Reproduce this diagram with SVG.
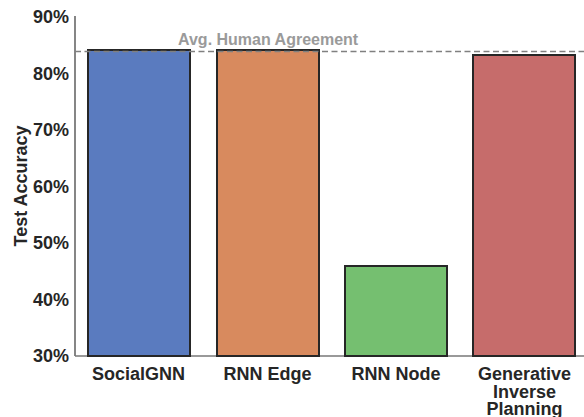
<svg xmlns="http://www.w3.org/2000/svg" width="584" height="417" viewBox="0 0 584 417">
<style>
text{font-family:"Liberation Sans",Arial,sans-serif;font-weight:bold;fill:#262626}
.tick{font-size:18px;text-anchor:end}
.xl{font-size:18px;text-anchor:middle}
.bar{stroke:#262626;stroke-width:2}
</style>
<rect width="584" height="417" fill="#fff"/>
<g id="axes">
<line x1="75" y1="16" x2="75" y2="356" stroke="#444" stroke-width="1.3"/>
<line x1="75" y1="356" x2="584" y2="356" stroke="#777" stroke-width="1.5"/>
<text class="tick" x="69" y="23">90%</text>
<text class="tick" x="69" y="79.5">80%</text>
<text class="tick" x="69" y="136">70%</text>
<text class="tick" x="69" y="192.5">60%</text>
<text class="tick" x="69" y="249">50%</text>
<text class="tick" x="69" y="305.5">40%</text>
<text class="tick" x="69" y="362">30%</text>
<text transform="translate(27,186) rotate(-90)" font-size="18" text-anchor="middle">Test Accuracy</text>
</g>
<g id="bar-socialgnn">
<rect class="bar" x="88" y="50" width="102" height="306" fill="#5a7bbf"/>
<text class="xl" x="138.5" y="380">SocialGNN</text>
</g>
<g id="bar-rnn-edge">
<rect class="bar" x="217" y="50" width="102" height="306" fill="#d88a5e"/>
<text class="xl" x="267.5" y="380">RNN Edge</text>
</g>
<g id="bar-rnn-node">
<rect class="bar" x="345" y="266" width="102" height="90" fill="#75bf70"/>
<text class="xl" x="396" y="380">RNN Node</text>
</g>
<g id="bar-gip">
<rect class="bar" x="473" y="55" width="102" height="301" fill="#c66c6b"/>
<text class="xl" x="524.5" y="380"><tspan x="524.5" y="380">Generative</tspan><tspan x="524.5" y="397.5">Inverse</tspan><tspan x="524.5" y="414.5">Planning</tspan></text>
</g>
<g id="connectors">
<line x1="75" y1="51.5" x2="584" y2="51.5" stroke="#808080" stroke-width="1.5" stroke-dasharray="6,3.5"/>
<text x="178" y="45" font-size="16" fill="#9a9a9a" style="fill:#9a9a9a">Avg. Human Agreement</text>
</g>
</svg>
